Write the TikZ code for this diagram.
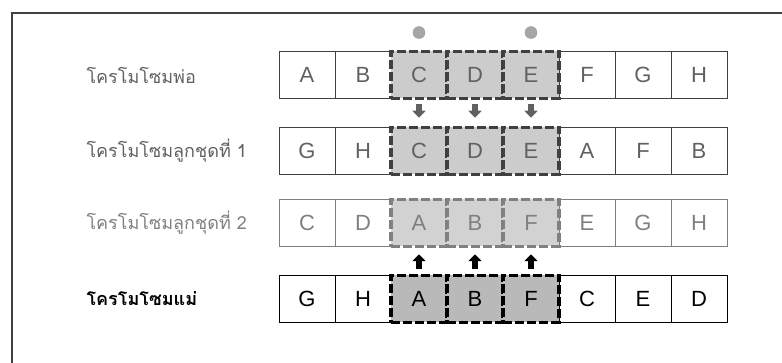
\documentclass[tikz,border=0pt]{standalone}
\usepackage{fontspec}
\setmainfont{Liberation Sans}
\newfontfamily\thaifont[Script=Thai]{Loma}
\usetikzlibrary{positioning, arrows.meta}

\definecolor{inkdark}{gray}{0.25}
\definecolor{inkmid}{gray}{0.38}
\definecolor{inklight}{gray}{0.50}

\tikzset{
  cell/.style={draw, minimum width=56pt, minimum height=47pt, inner sep=0pt,
    line width=0.9pt, font=\fontsize{22}{22}\selectfont},
  swapcell/.style={cell, fill=gray!40, line width=3.5pt, dash pattern=on 9pt off 3pt},
  rowlabel/.style={anchor=west, font=\thaifont\fontsize{18}{18}\selectfont},
  movearrow/.style={line width=5.5pt, -{Triangle[width=13pt,length=7pt]}},
  marker/.style={circle, draw=gray!80, fill=gray!70, minimum size=12pt, inner sep=0pt}
}

\begin{document}
\begin{tikzpicture}[x=1pt, y=-1pt]
    \useasboundingbox (0,0) rectangle (782,363);

    % outer frame (only top and left edges show)
    \draw[inkdark, line width=1.2pt] (12,363) -- (12,13) -- (782,13);

    % row labels
    \node[rowlabel, text=inkmid] (lfather) at (83,75) {โครโมโซมพ่อ};
    \node[rowlabel, text=inkmid] (lchild1) at (83,151) {โครโมโซมลูกชุดที่ 1};
    \node[rowlabel, text=inklight] (lchild2) at (83,223) {โครโมโซมลูกชุดที่ 2};
    \node[rowlabel, text=black, font=\thaifont\bfseries\fontsize{18}{18}\selectfont] (lmother) at (83,299) {โครโมโซมแม่};

    % father chromosome
    \foreach \ch/\i in {A/1, B/2, F/6, G/7, H/8}
        \node[cell, draw=inkdark, text=inkmid] (p\i) at (251+56*\i,75) {\ch};
    \foreach \ch/\i in {C/3, D/4, E/5}
        \node[swapcell, draw=inkdark, text=inkmid] (p\i) at (251+56*\i,75) {\ch};

    % first offspring
    \foreach \ch/\i in {G/1, H/2, A/6, F/7, B/8}
        \node[cell, draw=inkdark, text=inkmid] (c\i) at (251+56*\i,151) {\ch};
    \foreach \ch/\i in {C/3, D/4, E/5}
        \node[swapcell, draw=inkdark, text=inkmid] (c\i) at (251+56*\i,151) {\ch};

    % second offspring
    \foreach \ch/\i in {C/1, D/2, E/6, G/7, H/8}
        \node[cell, draw=inklight, text=inklight] (d\i) at (251+56*\i,223) {\ch};
    \foreach \ch/\i in {A/3, B/4, F/5}
        \node[swapcell, draw=inklight, text=inklight, fill=gray!35] (d\i) at (251+56*\i,223) {\ch};

    % mother chromosome
    \foreach \ch/\i in {G/1, H/2, C/6, E/7, D/8}
        \node[cell] (m\i) at (251+56*\i,299) {\ch};
    \foreach \ch/\i in {A/3, B/4, F/5}
        \node[swapcell, fill=gray!55] (m\i) at (251+56*\i,299) {\ch};

    % cut points
    \node[marker, above=11pt of p3] (cut1) {};
    \node[marker, above=11pt of p5] (cut2) {};

    % segments passed down
    \foreach \i in {3,4,5} {
        \draw[movearrow, inkmid, shorten <=4pt, shorten >=8pt] (p\i.south) -- (c\i.north);
        \draw[movearrow, black, shorten <=5pt, shorten >=6pt] (m\i.north) -- (d\i.south);
    }
\end{tikzpicture}
\end{document}
